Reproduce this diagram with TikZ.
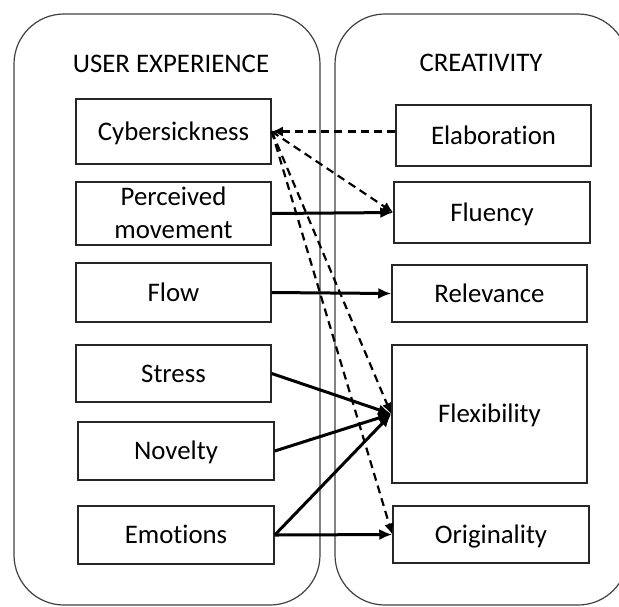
\documentclass[tikz,border=0pt]{standalone}
\usepackage{fontspec}
\setmainfont{Carlito}[Ligatures={NoCommon,NoContextual},RawFeature={-liga;-clig;-calt;-dlig}]
\usetikzlibrary{arrows.meta}
\begin{document}
\begin{tikzpicture}[x=0.5pt,y=-0.5pt,
  font=\fontsize{13.4pt}{16.5pt}\selectfont,
  container/.style={draw=black!75,line width=0.6pt,rounded corners=25pt},
  box/.style={draw=black!85,line width=0.75pt,rectangle,align=center,inner sep=0pt,text height=8.6pt,text depth=0pt},
  title/.style={inner sep=0pt},
  solidarrow/.style={line width=1.5pt,-{Latex[length=6.5pt,width=5.5pt]}},
  dasharrow/.style={line width=1.1pt,dash pattern=on 4pt off 2.6pt,-{Latex[length=5.5pt,width=5pt]}}]
\useasboundingbox (0,0) rectangle (619,606);
\clip (0,0) rectangle (619,606);
% containers
\draw[container] (14,14) rectangle (320,605);
\draw[container] (335,14) rectangle (628,605);
% titles
\node[title] (ux) at (171,64) {USER EXPERIENCE};
\node[title] (cr) at (481,63) {CREATIVITY};
% left boxes
\node[box,minimum width=97.5pt,minimum height=32.5pt] (cyb) at (173.5,131.5) {Cybersickness};
\node[box,minimum width=97.5pt,minimum height=31.5pt,text height=25.1pt] (pm) at (173.5,213.5) {Perceived\\movement};
\node[box,minimum width=97.5pt,minimum height=29.5pt] (flow) at (173.5,292.5) {Flow};
\node[box,minimum width=97.5pt,minimum height=28.5pt] (stress) at (173.5,373.5) {Stress};
\node[box,minimum width=98pt,minimum height=29pt] (nov) at (176,451) {Novelty};
\node[box,minimum width=98pt,minimum height=29pt] (emo) at (176,535) {Emotions};
% right boxes
\node[box,minimum width=97.5pt,minimum height=30.5pt] (elab) at (493.5,135.5) {Elaboration};
\node[box,minimum width=98pt,minimum height=30.5pt] (flu) at (492,212.5) {Fluency};
\node[box,minimum width=97.5pt,minimum height=28.5pt] (rel) at (489.5,293.5) {Relevance};
\node[box,minimum width=97.5pt,minimum height=69pt] (flex) at (489.5,414) {Flexibility};
\node[box,minimum width=98pt,minimum height=28.5pt] (orig) at (491,534.5) {Originality};
% dashed connectors from Cybersickness
\draw[dasharrow] (cyb.east -| elab.west) -- (cyb.east);
\draw[dasharrow] (cyb.east) -- (flu.west);
\draw[dasharrow] (cyb.east) -- (flex.west);
\draw[dasharrow] (cyb.east) -- (orig.west);
% solid connectors
\draw[solidarrow] (pm.east) -- (flu.west);
\draw[solidarrow] (flow.east) -- (rel.west);
\draw[solidarrow] (stress.east) -- (flex.west);
\draw[solidarrow] (nov.east) -- (flex.west);
\draw[solidarrow] (emo.east) -- (flex.west);
\draw[solidarrow] (emo.east) -- (orig.west);
\end{tikzpicture}
\end{document}
